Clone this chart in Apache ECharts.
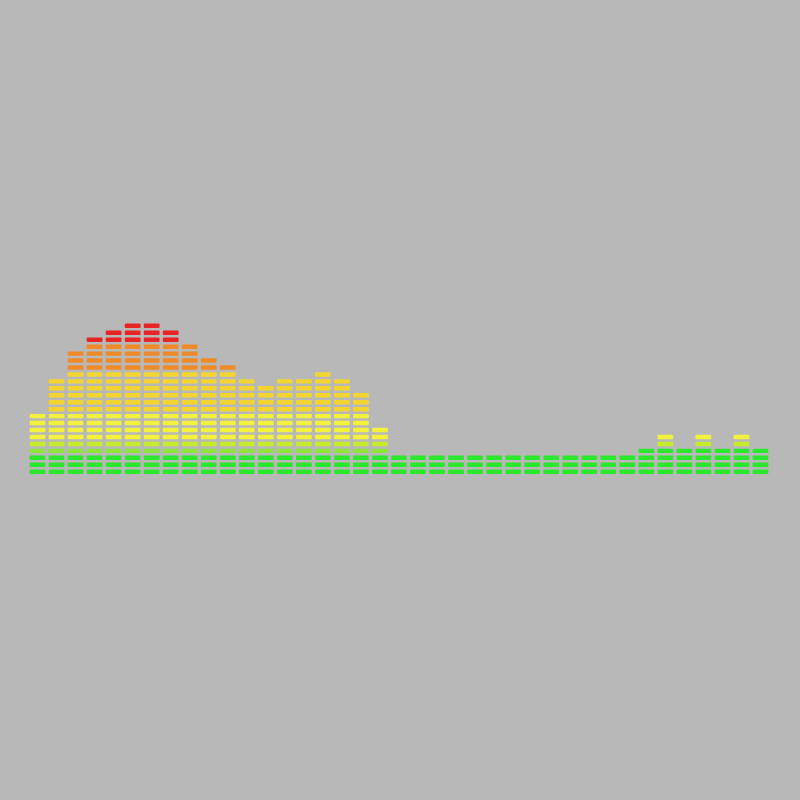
<!DOCTYPE html>
<html>
<head>
<meta charset="utf-8">
<script src="https://cdn.jsdelivr.net/npm/echarts@6/dist/echarts.min.js"></script>
<style>html,body{margin:0;padding:0;background:#b8b8b8;}#main{width:800px;height:800px;}</style>
</head>
<body>
<div id="main"></div>
<script>
// number of lit cells per bar (39 bars)
var categories = [];
for (var k = 0; k < 39; k++) categories.push('b' + k);
var levels = [9, 14, 18, 20, 21, 22, 22, 21, 19, 17,
              16, 14, 13, 14, 14, 15, 14, 12, 7, 3,
              3, 3, 3, 3, 3, 3, 3, 3, 3, 3,
              3, 3, 4, 6, 4, 6, 4, 6, 4];
// colour of each cell level, bottom to top
var levelColors = ['#2ce82c', '#2ce82c', '#2ce82c', '#8fe63a', '#c6ec2c',
                   '#f2f23c', '#f2f23c', '#f2f23c', '#f2f23c',
                   '#f4d530', '#f4d530', '#f4d530', '#f4d530', '#f4d530', '#f4d530',
                   '#ee8a28', '#ee8a28', '#ee8a28', '#ee8a28',
                   '#e82424', '#e82424', '#e82424'];

var chart = echarts.init(document.getElementById('main'));
chart.setOption({
  backgroundColor: '#b8b8b8',
  animation: false,
  grid: { left: 28, right: 30, top: 125, bottom: 324.8 },
  xAxis: { type: 'category', data: categories, show: false },
  yAxis: { type: 'value', min: 0, max: 50.4, show: false, splitLine: { show: false } },
  series: [{
    type: 'custom',
    data: levels.map(function (v, i) { return [i, v]; }),
    renderItem: function (params, api) {
      var idx = api.value(0);
      var n = api.value(1);
      var size = api.size([1, 1]);
      var bw = size[0] * 0.83;
      var unit = size[1];
      var ch = unit * 0.64;
      var children = [];
      for (var i = 0; i < n; i++) {
        var p = api.coord([idx, i + 1]);
        var c = levelColors[Math.min(i, levelColors.length - 1)];
        if (i === 3 && idx > 19) c = '#2ce82c';
        children.push({
          type: 'rect',
          shape: { x: p[0] - bw / 2, y: p[1] + (unit - ch) / 2, width: bw, height: ch, r: 1 },
          style: { fill: c }
        });
      }
      return { type: 'group', children: children };
    }
  }]
});
</script>
</body>
</html>
